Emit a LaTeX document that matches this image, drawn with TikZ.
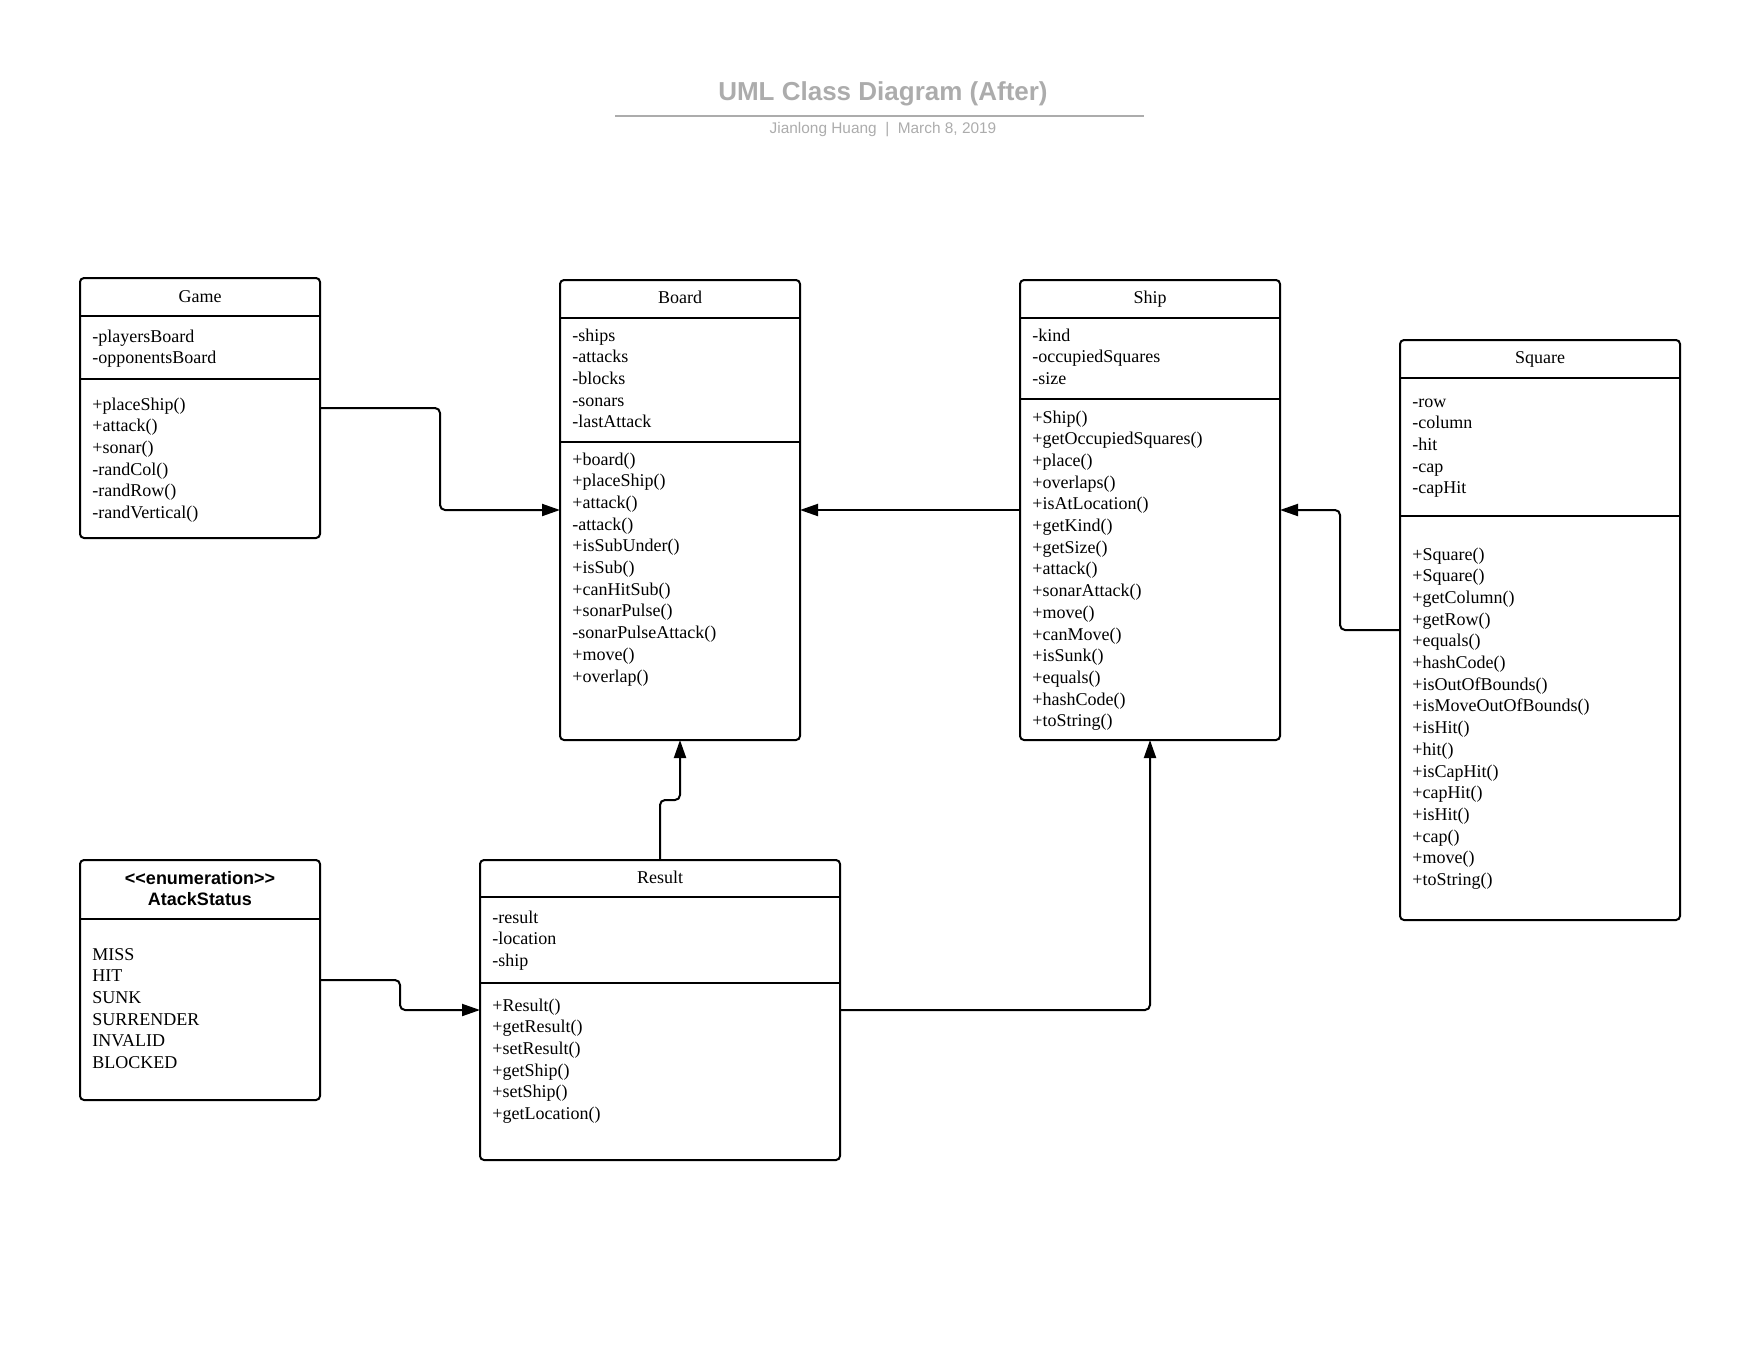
\documentclass[tikz,border=0pt]{standalone}
\usepackage{fontspec}
\setmainfont{Liberation Serif}
\newfontfamily\headfont{Liberation Sans}
\usetikzlibrary{arrows.meta}
\definecolor{titlegray}{RGB}{172,172,172}

\begin{document}
\begin{tikzpicture}[x=0.5pt, y=-0.5pt,
	classbox/.style={draw, line width=1pt, rounded corners=2pt, inner sep=0pt, outer sep=0pt, anchor=north west},
	classname/.style={font=\fontsize{9}{10.85}\selectfont, inner sep=0pt, anchor=base},
	members/.style={font=\fontsize{9}{10.85}\selectfont, align=left, text width=125pt, inner sep=0pt, anchor=base west},
	divider/.style={line width=1pt},
	assoc/.style={line width=1pt, rounded corners=2.5pt, -{Triangle[length=9pt,width=6pt]}}]
	\useasboundingbox (0,0) rectangle (1760,1360);

	%title
	\node[font=\headfont\bfseries\fontsize{13}{15}\selectfont, text=titlegray, anchor=base] (title) at (883,100) {UML Class Diagram (After)};
	\draw[titlegray, line width=1pt] (615,116) -- (1144,116);
	\node[font=\headfont\fontsize{7.7}{10}\selectfont, text=titlegray, anchor=base] (subtitle) at (883,133) {Jianlong Huang~~|~~March 8, 2019};

	%Game
	\node[classbox, minimum width=120pt, minimum height=130pt] (game) at (80,278) {};
	\draw[divider] (80,316) -- (320,316); \draw[divider] (80,379) -- (320,379);
	\node[classname] (game-name) at (200,302) {Game};
	\node[members] (game-attr) at (92,342) {-playersBoard\\-opponentsBoard};
	\node[members] (game-ops) at (92,410) {+placeShip()\\+attack()\\+sonar()\\-randCol()\\-randRow()\\-randVertical()};

	%Board
	\node[classbox, minimum width=120pt, minimum height=230pt] (board) at (560,280) {};
	\draw[divider] (560,318) -- (800,318); \draw[divider] (560,442) -- (800,442);
	\node[classname] (board-name) at (680,303) {Board};
	\node[members] (board-attr) at (572,341) {-ships\\-attacks\\-blocks\\-sonars\\-lastAttack};
	\node[members] (board-ops) at (572,465) {+board()\\+placeShip()\\+attack()\\-attack()\\+isSubUnder()\\+isSub()\\+canHitSub()\\+sonarPulse()\\-sonarPulseAttack()\\+move()\\+overlap()};

	%Ship
	\node[classbox, minimum width=130pt, minimum height=230pt] (ship) at (1020,280) {};
	\draw[divider] (1020,318) -- (1280,318); \draw[divider] (1020,399) -- (1280,399);
	\node[classname] (ship-name) at (1150,303) {Ship};
	\node[members] (ship-attr) at (1032,341) {-kind\\-occupiedSquares\\-size};
	\node[members] (ship-ops) at (1032,423) {+Ship()\\+getOccupiedSquares()\\+place()\\+overlaps()\\+isAtLocation()\\+getKind()\\+getSize()\\+attack()\\+sonarAttack()\\+move()\\+canMove()\\+isSunk()\\+equals()\\+hashCode()\\+toString()};

	%Square
	\node[classbox, minimum width=140pt, minimum height=290pt] (square) at (1400,340) {};
	\draw[divider] (1400,378) -- (1680,378); \draw[divider] (1400,516) -- (1680,516);
	\node[classname] (square-name) at (1540,363) {Square};
	\node[members] (square-attr) at (1412,407) {-row\\-column\\-hit\\-cap\\-capHit};
	\node[members] (square-ops) at (1412,560) {+Square()\\+Square()\\+getColumn()\\+getRow()\\+equals()\\+hashCode()\\+isOutOfBounds()\\+isMoveOutOfBounds()\\+isHit()\\+hit()\\+isCapHit()\\+capHit()\\+isHit()\\+cap()\\+move()\\+toString()};

	%AtackStatus
	\node[classbox, minimum width=120pt, minimum height=120pt] (status) at (80,860) {};
	\draw[divider] (80,919) -- (320,919);
	\node[font=\headfont\bfseries\fontsize{9}{10.5}\selectfont, align=center, text width=120pt, inner sep=0pt, anchor=base] (status-name) at (200,884) {<\kern0pt<enumeration>\kern0pt>\\AtackStatus};
	\node[members] (status-items) at (92,960) {MISS\\HIT\\SUNK\\SURRENDER\\INVALID\\BLOCKED};

	%Result
	\node[classbox, minimum width=180pt, minimum height=150pt] (result) at (480,860) {};
	\draw[divider] (480,897) -- (840,897); \draw[divider] (480,983) -- (840,983);
	\node[classname] (result-name) at (660,883) {Result};
	\node[members] (result-attr) at (492,923) {-result\\-location\\-ship};
	\node[members] (result-ops) at (492,1011) {+Result()\\+getResult()\\+setResult()\\+getShip()\\+setShip()\\+getLocation()};

	%associations
	\draw[assoc] (game.east) -- ++(120,0) |- (board.west);
	\draw[assoc] (ship.west) -- (board.east);
	\draw[assoc] (square.west) -- ++(-60,0) |- (ship.east);
	\draw[assoc] (result.north) -- ++(0,-60) -| (board.south);
	\draw[assoc] (result.east) -| (ship.south);
	\draw[assoc] (status.east) -- ++(80,0) |- (result.west);
\end{tikzpicture}
\end{document}
